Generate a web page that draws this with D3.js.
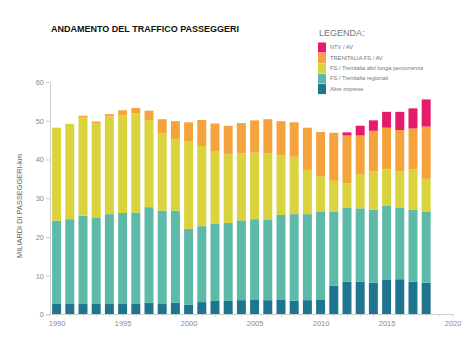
<!DOCTYPE html>
<meta charset="utf-8">
<style>
body { margin: 0; background: #fff; }
text { font-family: "Liberation Sans", Arial, sans-serif; }
.title { font-weight: bold; font-size: 9px; fill: #111; }
.axis text { font-size: 7.5px; fill: #8a8a8a; }
.axis path, .axis line { stroke: #cfcfcf; }
.legend text { font-size: 5.7px; fill: #777; }
</style>
<svg width="474" height="338"></svg>
<script src="https://cdn.jsdelivr.net/npm/d3@7"></script>
<script>

// miliardi di passeggeri-km per anno
var years = d3.range(1990, 2019);

var altreImprese = [2.7, 2.7, 2.7, 2.7, 2.7, 2.7, 2.7, 3.0, 2.7, 3.0,
                    2.5, 3.2, 3.5, 3.5, 3.7, 3.9, 3.7, 3.9, 3.6, 3.7,
                    3.9, 7.4, 8.5, 8.5, 8.2, 8.9, 9.1, 8.5, 8.2];
var regionali = [21.5, 21.9, 22.8, 22.2, 23.2, 23.5, 23.6, 24.7, 24.1, 23.8,
                 19.6, 19.6, 19.9, 20.1, 20.6, 20.7, 20.7, 21.8, 22.3, 22.2,
                 22.7, 19.2, 19.1, 18.9, 18.8, 19.1, 18.5, 18.6, 18.3];
var lungaPercorrenza = [24.0, 24.6, 25.3, 24.5, 25.2, 25.3, 25.6, 22.5, 20.0, 18.5,
                        22.5, 20.7, 18.8, 17.7, 17.3, 17.2, 17.2, 15.4, 14.8, 11.4,
                        9.0, 7.9, 6.3, 8.8, 9.9, 9.5, 9.3, 10.4, 8.5];
var trenitaliaAV = [0, 0, 0.5, 0.4, 0.6, 1.2, 1.4, 2.4, 3.6, 4.6,
                    5.0, 6.7, 7.1, 7.4, 7.8, 8.3, 8.8, 8.8, 8.9, 10.9,
                    11.5, 12.4, 12.3, 10.0, 10.5, 10.7, 10.7, 10.5, 13.5];
var ntvAV = [0, 0, 0, 0, 0, 0, 0, 0, 0, 0,
             0, 0, 0, 0, 0, 0, 0, 0, 0, 0,
             0, 0, 0.8, 2.5, 2.7, 4.1, 4.7, 5.2, 7.0];

var keys = ["altre", "regionali", "lunga", "tav", "ntv"];
var labels = {
  ntv: "NTV / AV",
  tav: "TRENITALIA FS / AV",
  lunga: "FS / Trenitalia altri lunga percorrenza",
  regionali: "FS / Trenitalia regionali",
  altre: "Altre imprese"
};
var colors = {
  altre: "#1f7490",
  regionali: "#5dbaa9",
  lunga: "#d9d33d",
  tav: "#f5a43d",
  ntv: "#e51b6b"
};

var rows = years.map(function(y, i) {
  return {
    year: y,
    altre: altreImprese[i],
    regionali: regionali[i],
    lunga: lungaPercorrenza[i],
    tav: trenitaliaAV[i],
    ntv: ntvAV[i]
  };
});

var svg = d3.select("svg");

var x = d3.scaleLinear()
    .domain([1989.5, 2020.6])
    .range([50, 460.5]);

var y = d3.scaleLinear()
    .domain([0, 60])
    .range([314.5, 82]);

var series = d3.stack().keys(keys)(rows);

var halfBar = 0.34;

svg.append("g")
  .selectAll("g")
  .data(series)
  .enter().append("g")
    .attr("fill", function(d) { return colors[d.key]; })
  .selectAll("rect")
  .data(function(d) { return d; })
  .enter().append("rect")
    .attr("x", function(d) { return x(d.data.year - halfBar); })
    .attr("width", function(d) { return x(d.data.year + halfBar) - x(d.data.year - halfBar); })
    .attr("y", function(d) { return y(d[1]); })
    .attr("height", function(d) { return y(d[0]) - y(d[1]); });

// asse y
var yAxis = svg.append("g")
    .attr("class", "axis")
    .attr("transform", "translate(50,0)")
    .call(d3.axisLeft(y).tickValues(d3.range(0, 61, 10)).tickSize(4).tickPadding(2));

// asse x: tacche annuali piccole, etichette ogni 5 anni
var xAxis = svg.append("g")
    .attr("class", "axis")
    .attr("transform", "translate(0,314.5)")
    .call(d3.axisBottom(x).tickValues(d3.range(1990, 2021)).tickSize(2)
      .tickFormat(function(d) { return d % 5 === 0 ? d : ""; }).tickPadding(4));
xAxis.select(".domain").attr("d", "M50,0H453");
xAxis.selectAll(".tick line").attr("stroke", "#b9cfdc");

svg.append("text")
    .attr("class", "title")
    .attr("x", 51)
    .attr("y", 32)
    .text("ANDAMENTO DEL TRAFFICO PASSEGGERI");

svg.append("text")
    .attr("transform", "translate(22,206) rotate(-90)")
    .attr("text-anchor", "middle")
    .attr("font-size", "7.4px")
    .attr("fill", "#666")
    .text("MILIARDI DI PASSEGGERI-km");

// legenda
var legend = svg.append("g").attr("class", "legend");

legend.append("text")
    .attr("x", 319)
    .attr("y", 36)
    .attr("fill", "#666")
    .style("font-size", "9px")
    .text("LEGENDA:");

var legendKeys = ["ntv", "tav", "lunga", "regionali", "altre"];

var item = legend.selectAll(".item")
  .data(legendKeys)
  .enter().append("g")
    .attr("class", "item")
    .attr("transform", function(d, i) { return "translate(318," + (42.5 + i * 10.4) + ")"; });

item.append("rect")
    .attr("width", 8)
    .attr("height", 10)
    .attr("fill", function(d) { return colors[d]; });

item.append("text")
    .attr("x", 12)
    .attr("y", 6.8)
    .text(function(d) { return labels[d]; });

</script>
